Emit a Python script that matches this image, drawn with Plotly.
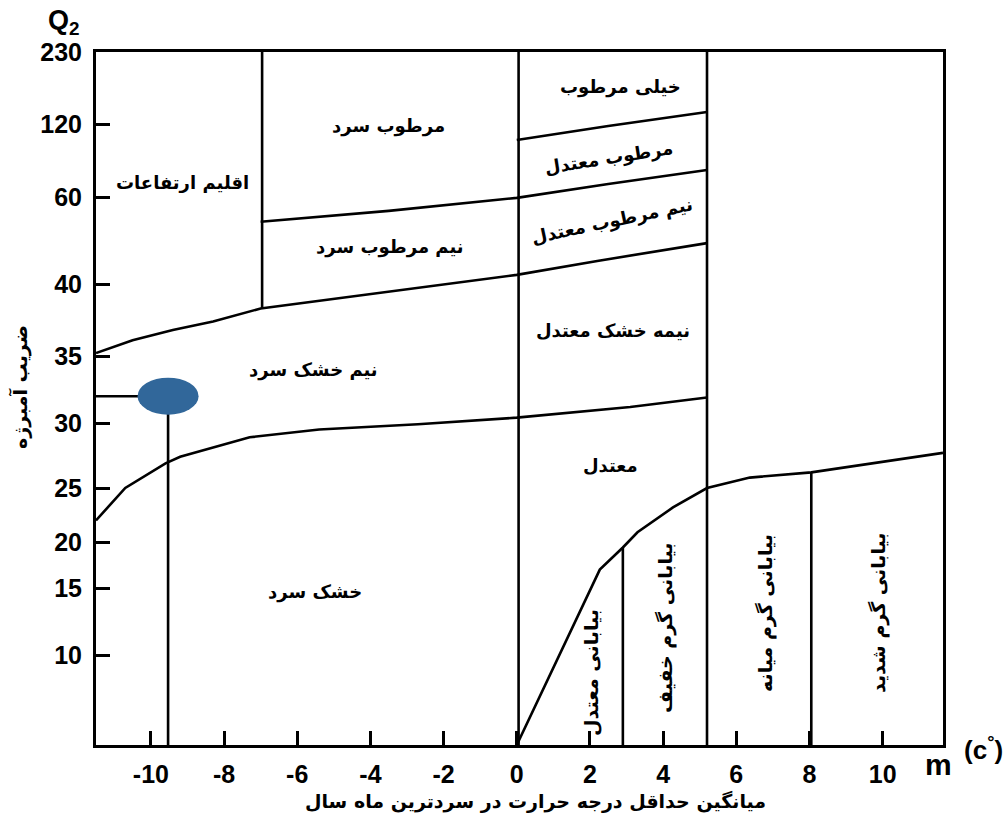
import numpy as np
import plotly.graph_objects as go

# ---------------- data ----------------
# Emberger Q2 axis labels and the diagram's (non-linear) vertical scale
Q2_TICKS = [0, 10, 15, 20, 25, 30, 35, 40, 60, 120, 230]
Q2_SCALE = [0, 90, 157, 203, 257, 322, 389, 461, 548, 621, 693]

T_TICKS = [-10, -8, -6, -4, -2, 0, 2, 4, 6, 8, 10]

# boundary curves (T = mean min temp of coldest month, Q2)
T_CURVE_A = [-11.5, -10.7, -9.6, -9.2, -7.3, -5.4, -2.7, 0.0, 3.1, 5.2]
Q_CURVE_A = [22.0, 25.0, 26.9, 27.4, 28.9, 29.5, 29.9, 30.4, 31.2, 31.9]

T_CURVE_B = [-11.5, -10.5, -9.4, -8.3, -7.0, -3.7, 0.0, 2.2, 5.2]
Q_CURVE_B = [35.2, 36.1, 36.8, 37.4, 38.3, 39.4, 42.1, 45.3, 49.4]

T_CURVE_C = [-7.0, -3.5, 0.0, 2.5, 5.2]
Q_CURVE_C = [54.3, 56.8, 59.8, 70.7, 82.2]

T_CURVE_D = [0.0, 2.5, 5.2]
Q_CURVE_D = [106.8, 118.4, 138.3]

T_DESERT = [0.0, 2.27, 2.9, 3.3, 4.27, 5.2, 6.37, 8.05, 11.65]
Q_DESERT = [0.0, 17.0, 19.4, 20.9, 23.2, 25.0, 25.8, 26.2, 27.7]

# vertical dividers
DIV_T = [-6.96, 0.05, 5.2, 2.9, 8.05]
DIV_Q_LOW = [38.3, 0, 0, 0, 0]
DIV_Q_HIGH = [230, 230, 230, 19.4, 26.2]

# station
STATION_T = [-9.53]
STATION_Q2 = [32.0]

# ---------------- helpers ----------------
def ypos(q):
    return np.interp(np.asarray(q, dtype=float), Q2_TICKS, Q2_SCALE)

W, H = 1007, 821
ML, MR, MT, MB = 96, 64, 52, 76
PW, PH = W - ML - MR, H - MT - MB
XR = [-11.5, 11.65]


def paper(px, py):
    return (px - ML) / PW, (H - MB - py) / PH


fig = go.Figure()
LW = 2.6
for tx, qy in [(T_CURVE_A, Q_CURVE_A), (T_CURVE_B, Q_CURVE_B), (T_CURVE_C, Q_CURVE_C),
               (T_CURVE_D, Q_CURVE_D), (T_DESERT, Q_DESERT)]:
    fig.add_trace(go.Scatter(x=tx, y=ypos(qy), mode="lines",
                             line=dict(color="black", width=LW), hoverinfo="skip"))

for t, lo, hi in zip(DIV_T, DIV_Q_LOW, DIV_Q_HIGH):
    fig.add_trace(go.Scatter(x=[t, t], y=ypos([lo, hi]), mode="lines",
                             line=dict(color="black", width=LW), hoverinfo="skip"))

# station guide lines
fig.add_trace(go.Scatter(x=[XR[0], STATION_T[0]], y=ypos([STATION_Q2[0], STATION_Q2[0]]),
                         mode="lines", line=dict(color="black", width=LW), hoverinfo="skip"))
fig.add_trace(go.Scatter(x=[STATION_T[0], STATION_T[0]], y=ypos([0, STATION_Q2[0]]),
                         mode="lines", line=dict(color="black", width=LW), hoverinfo="skip"))

# station ellipse
fig.add_shape(type="circle", xref="x", yref="y", xsizemode="pixel", ysizemode="pixel",
              xanchor=STATION_T[0], yanchor=float(ypos(STATION_Q2[0])),
              x0=-30.5, x1=30.5, y0=-18.5, y1=18.5,
              fillcolor="#31679A", line=dict(width=0), layer="above")

FA = "DejaVu Sans"
labels = [
    ("اقلیم ارتفاعات", 182, 183, 0, 18),
    ("مرطوب سرد", 388, 126, 0, 18),
    ("نیم مرطوب سرد", 390, 247, 0, 18),
    ("نیم خشک سرد", 313, 370, 0, 18),
    ("خشک سرد", 315, 592, 0, 18),
    ("خیلی مرطوب", 620, 87, 0, 18),
    ("مرطوب معتدل", 609, 158, -9, 18),
    ("نیم مرطوب معتدل", 612, 221, -12, 18),
    ("نیمه خشک معتدل", 613, 330, 0, 18),
    ("معتدل", 610, 465, 0, 18),
    ("بیابانی معتدل", 591, 673, -90, 19),
    ("بیابانی گرم خفیف", 665, 628, -90, 19),
    ("بیابانی گرم میانه", 765, 613, -90, 19),
    ("بیابانی گرم شدید", 878, 613, -90, 19),
]


def note(text, px, py, size, family=FA, angle=0):
    xp, yp = paper(px, py)
    fig.add_annotation(x=xp, y=yp, xref="paper", yref="paper", text=text,
                       showarrow=False, textangle=angle, xanchor="center", yanchor="middle",
                       font=dict(family=family, size=size, color="black"))


for txt, px, py, ang, sz in labels:
    note("<b>%s</b>" % txt, px, py, sz, angle=ang)

# axis titles and units
note("<b>ضریب آمبرژه</b>", 20, 387, 19, angle=-90)
note("<b>میانگین حداقل درجه حرارت در سردترین ماه سال</b>", 535, 801, 19)
note("<b>Q<sub>2</sub></b>", 64, 22, 27, family="Liberation Sans")
note("<b>m</b>", 938, 764, 30, family="Liberation Sans")
note("<b>(c<sup>°</sup>)</b>", 983, 748, 26, family="Liberation Sans")

TF = dict(family="Liberation Sans", size=25, color="black", weight="bold")
fig.update_xaxes(range=XR, tickvals=T_TICKS, ticktext=[str(v) for v in T_TICKS],
                 ticks="inside", ticklen=14, tickwidth=2.5, tickcolor="black",
                 showline=True, linecolor="black", linewidth=3, mirror=True,
                 showgrid=False, zeroline=False, tickfont=TF, ticklabelstandoff=5)
fig.update_yaxes(range=[0, Q2_SCALE[-1]], tickvals=Q2_SCALE[1:], ticktext=[str(v) for v in Q2_TICKS[1:]],
                 ticks="inside", ticklen=14, tickwidth=2.5, tickcolor="black",
                 showline=True, linecolor="black", linewidth=3, mirror=True,
                 showgrid=False, zeroline=False, tickfont=TF, ticklabelstandoff=6)
fig.update_layout(width=W, height=H, margin=dict(l=ML, r=MR, t=MT, b=MB),
                  plot_bgcolor="white", paper_bgcolor="white", showlegend=False)
fig.write_html("out.html", config={"displayModeBar": False},
               post_script="document.body.style.margin='0px';")
